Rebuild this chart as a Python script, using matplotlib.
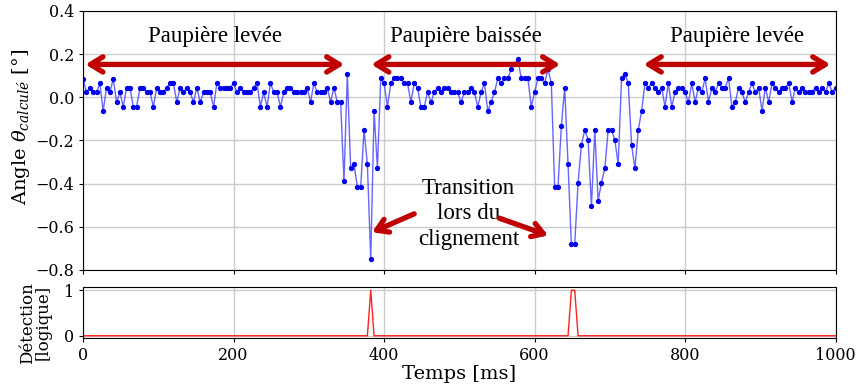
import numpy as np
import matplotlib
matplotlib.use("Agg")
import matplotlib.pyplot as plt

# angle calcule (deg), un point toutes les ~4.4 ms
angle = [
    0.085, 0.023, 0.045, 0.023, 0.023, 0.065, -0.064, 0.045, 0.023, 0.085,
    -0.023, 0.023, -0.044, 0.045, 0.045, -0.044, -0.044, 0.045, 0.045, 0.023,
    0.023, -0.044, 0.045, 0.023, 0.023, 0.045, 0.065, 0.065, -0.023, 0.045,
    0.023, 0.045, 0.023, -0.023, 0.045, -0.023, 0.023, 0.023, 0.023, -0.044,
    0.065, 0.045, 0.045, 0.045, 0.045, 0.065, 0.023, 0.045, 0.023, 0.023,
    0.023, 0.045, 0.065, -0.044, 0.023, -0.044, 0.065, 0.023, 0.023, -0.044,
    0.023, 0.045, 0.045, 0.023, 0.023, 0.023, 0.023, 0.045, -0.023, 0.065,
    0.023, 0.023, 0.023, 0.045, -0.023, 0.045, -0.023, -0.023,
    # premier clignement
    -0.39, 0.11, -0.33, -0.31, -0.415, -0.415, -0.15, -0.31, -0.75, -0.064,
    -0.33, 0.088, 0.065, -0.044, 0.065, 0.088, 0.088, 0.088, 0.065, 0.065,
    -0.023,
    0.065, 0.045, -0.044, -0.044, 0.023, -0.023, 0.023, 0.045, 0.023, 0.045,
    0.045, 0.023, 0.023, 0.023, -0.023, 0.023, 0.023,
    0.042, 0.023, -0.044, 0.023, 0.065, -0.064, -0.02, 0.023, 0.088, 0.065,
    0.088, 0.088, 0.13, 0.154, 0.177, 0.088, 0.088, 0.088, -0.044, 0.023,
    0.088, 0.088, 0.065, 0.13, 0.065,
    # second clignement
    -0.415, -0.415, -0.132, 0.045, -0.31, -0.68, -0.68, -0.395, -0.22, -0.152,
    -0.198, -0.506, -0.152, -0.48, -0.395, -0.33, -0.152, -0.152, -0.198, -0.31,
    0.088, 0.11, 0.065, -0.22, -0.33, -0.152, -0.064, 0.065,
    0.045, 0.065, 0.045, 0.023, 0.045, -0.044, 0.065, -0.044, 0.023, 0.045,
    0.045, 0.023, -0.023, 0.065, -0.023, 0.045, 0.023, 0.088, -0.023, 0.045,
    0.023, 0.065, 0.045, 0.045,
    0.088, -0.044, -0.023, 0.045, 0.023, -0.023, 0.023, 0.065, 0.023, 0.045,
    -0.064, 0.045, -0.023, 0.065, 0.045, 0.023, 0.045, 0.045, 0.065, -0.023,
    0.045, 0.023, 0.045, 0.023, 0.023, 0.023, 0.045, 0.023, 0.045, 0.023,
    0.065, 0.023, 0.045,
]
# indices ou la detection vaut 1
detection_on = [86, 146, 147]

periode = 1000 / (len(angle) - 1)
temps = np.arange(len(angle)) * periode
detection = np.zeros(len(angle))
detection[detection_on] = 1

plt.rcParams['font.family'] = ['DejaVu Serif']
plt.rcParams['mathtext.fontset'] = 'dejavuserif'
annot_font = ['Liberation Serif', 'DejaVu Serif']

rouge = '#c00000'
fig = plt.figure(figsize=(8.57, 3.89), dpi=100)
ax = fig.add_axes([0.097, 0.306, 0.878, 0.666])
ax2 = fig.add_axes([0.097, 0.131, 0.878, 0.131])

ax.plot(temps, angle, color='#3333ff', lw=1, alpha=0.75)
ax.plot(temps, angle, ls='none', marker='o', ms=2.8, color='#0000ee')
ax.set_xlim(0, 1000)
ax.set_ylim(-0.8, 0.4)
ax.set_xticks(range(0, 1001, 200))
ax.set_xticklabels([])
ax.set_yticks(np.arange(-0.8, 0.41, 0.2))
ax.grid(True, color='#cccccc', lw=1)
ax.set_axisbelow(True)
ax.tick_params(labelsize=11.5, length=3)
ax.set_ylabel(r'Angle $\theta_{calculé}$ [°]', fontsize=14)
ax.yaxis.set_label_coords(-0.068, 0.55)

# fleches et textes
fleche = dict(arrowstyle='<->, head_length=0.9, head_width=0.55', color=rouge, lw=3.8,
              shrinkA=0, shrinkB=0)
for x0, x1, texte in [(3, 347, 'Paupière levée'), (383, 634, 'Paupière baissée'),
                      (745, 993, 'Paupière levée')]:
    ax.annotate('', xy=(x0, 0.152), xytext=(x1, 0.152), arrowprops=fleche)
    ax.text((x0 + x1) / 2, 0.28, texte, ha='center', va='center', fontsize=16.5,
            family=annot_font)

ax.text(512, -0.54, 'Transition\nlors du\nclignement', ha='center', va='center',
        fontsize=16.5, linespacing=1.3, family=annot_font)
petite = dict(arrowstyle='->, head_length=0.8, head_width=0.5', color=rouge, lw=3.8,
              shrinkA=0, shrinkB=0)
ax.annotate('', xy=(384, -0.625), xytext=(440, -0.54), arrowprops=petite)
ax.annotate('', xy=(618, -0.64), xytext=(553, -0.56), arrowprops=petite)

ax2.plot(temps, detection, color='#ff2020', lw=1)
ax2.set_xlim(0, 1000)
ax2.set_ylim(-0.05, 1.07)
ax2.set_xticks(range(0, 1001, 200))
ax2.set_yticks([0, 1])
ax2.grid(True, color='#cccccc', lw=1)
ax2.set_axisbelow(True)
ax2.tick_params(labelsize=11.5, length=3)
ax2.set_ylabel('Détection\n[logique]', fontsize=12, linespacing=0.9)
ax2.yaxis.set_label_coords(-0.042, 0.3)
ax2.set_xlabel('Temps [ms]', fontsize=14, labelpad=1)

fig.savefig('out.png', dpi=100)
